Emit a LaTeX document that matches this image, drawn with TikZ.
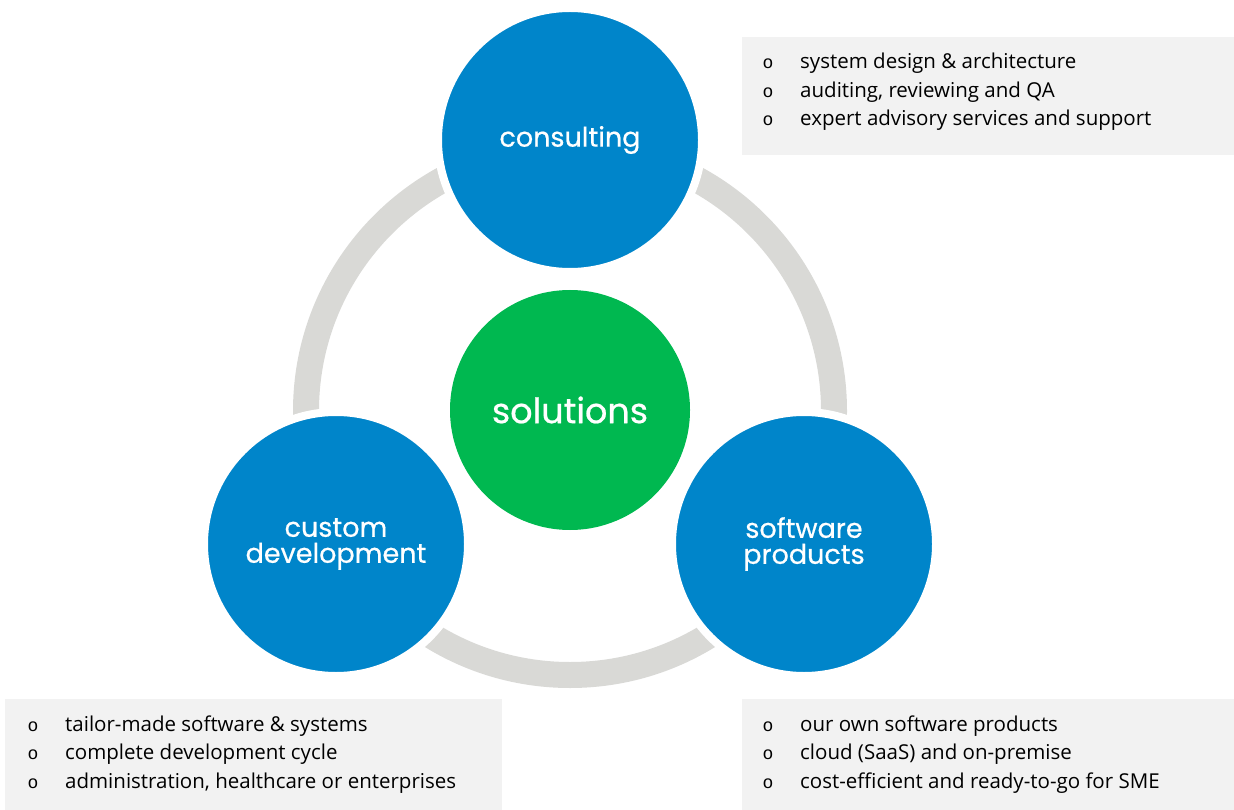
\documentclass[tikz,border=0pt]{standalone}
\usepackage{fontspec}
\setmainfont{Open Sans}
\newfontfamily\labelfont[FakeBold=0.6]{Poppins}
\newfontfamily\bulletfont{Liberation Mono}
\definecolor{cblue}{HTML}{0085CA}
\definecolor{cgreen}{HTML}{00B850}
\definecolor{ringgray}{HTML}{D9D9D6}
\definecolor{boxgray}{HTML}{F2F2F2}
\tikzset{
  bluecirc/.style={circle, fill=cblue, draw=white, line width=8pt, minimum size=264pt, inner sep=0pt,
    text=white, align=center, font=\labelfont\fontsize{27}{26}\selectfont},
  greencirc/.style={circle, fill=cgreen, minimum size=240pt, inner sep=0pt,
    text=white, align=center, font=\labelfont\fontsize{35}{35}\selectfont},
  infobox/.style={fill=boxgray, draw=none, inner sep=0pt},
  bul/.style={anchor=base, inner sep=0pt, font=\bulletfont\fontsize{18}{18}\selectfont},
  itemtext/.style={anchor=base west, inner sep=0pt, font=\fontsize{20.5}{20.5}\selectfont}
}
\begin{document}
\begin{tikzpicture}[x=1pt,y=-1pt]
\useasboundingbox (0,0) rectangle (1234,810);
% ring
\fill[ringgray, even odd rule] (570,411) circle (277pt) (570,411) circle (251pt);
% circles
\node[greencirc] (sol) at (570,410) {solutions};
\node[bluecirc] (cons) at (570,140) {consulting};
\node[bluecirc] (cust) at (336,544) {custom\\[0pt]development};
\node[bluecirc] (soft) at (804,544) {software\\[0pt]products};
% boxes
\fill[boxgray] (742,37) rectangle (1234,155);
\fill[boxgray] (5,699) rectangle (502,810);
\fill[boxgray] (742,699) rectangle (1234,810);
% top right items
\node[bul] (b1) at (768,69) {o};
\node[itemtext] (t1) at (800,69) {system design \& architecture};
\node[bul] (b2) at (768,98) {o};
\node[itemtext] (t2) at (800,98) {auditing, reviewing and QA};
\node[bul] (b3) at (768,126) {o};
\node[itemtext] (t3) at (800,126) {expert advisory services and support};
% bottom left items
\node[bul] (b4) at (33,731) {o};
\node[itemtext] (t4) at (65,731) {tailor-made software \& systems};
\node[bul] (b5) at (33,759) {o};
\node[itemtext] (t5) at (65,759) {complete development cycle};
\node[bul] (b6) at (33,788) {o};
\node[itemtext] (t6) at (65,788) {administration, healthcare or enterprises};
% bottom right items
\node[bul] (b7) at (768,731) {o};
\node[itemtext] (t7) at (800,731) {our own software products};
\node[bul] (b8) at (768,759) {o};
\node[itemtext] (t8) at (800,759) {cloud (SaaS) and on-premise};
\node[bul] (b9) at (768,788) {o};
\node[itemtext] (t9) at (800,788) {cost-efficient and ready-to-go for SME};
\end{tikzpicture}
\end{document}
